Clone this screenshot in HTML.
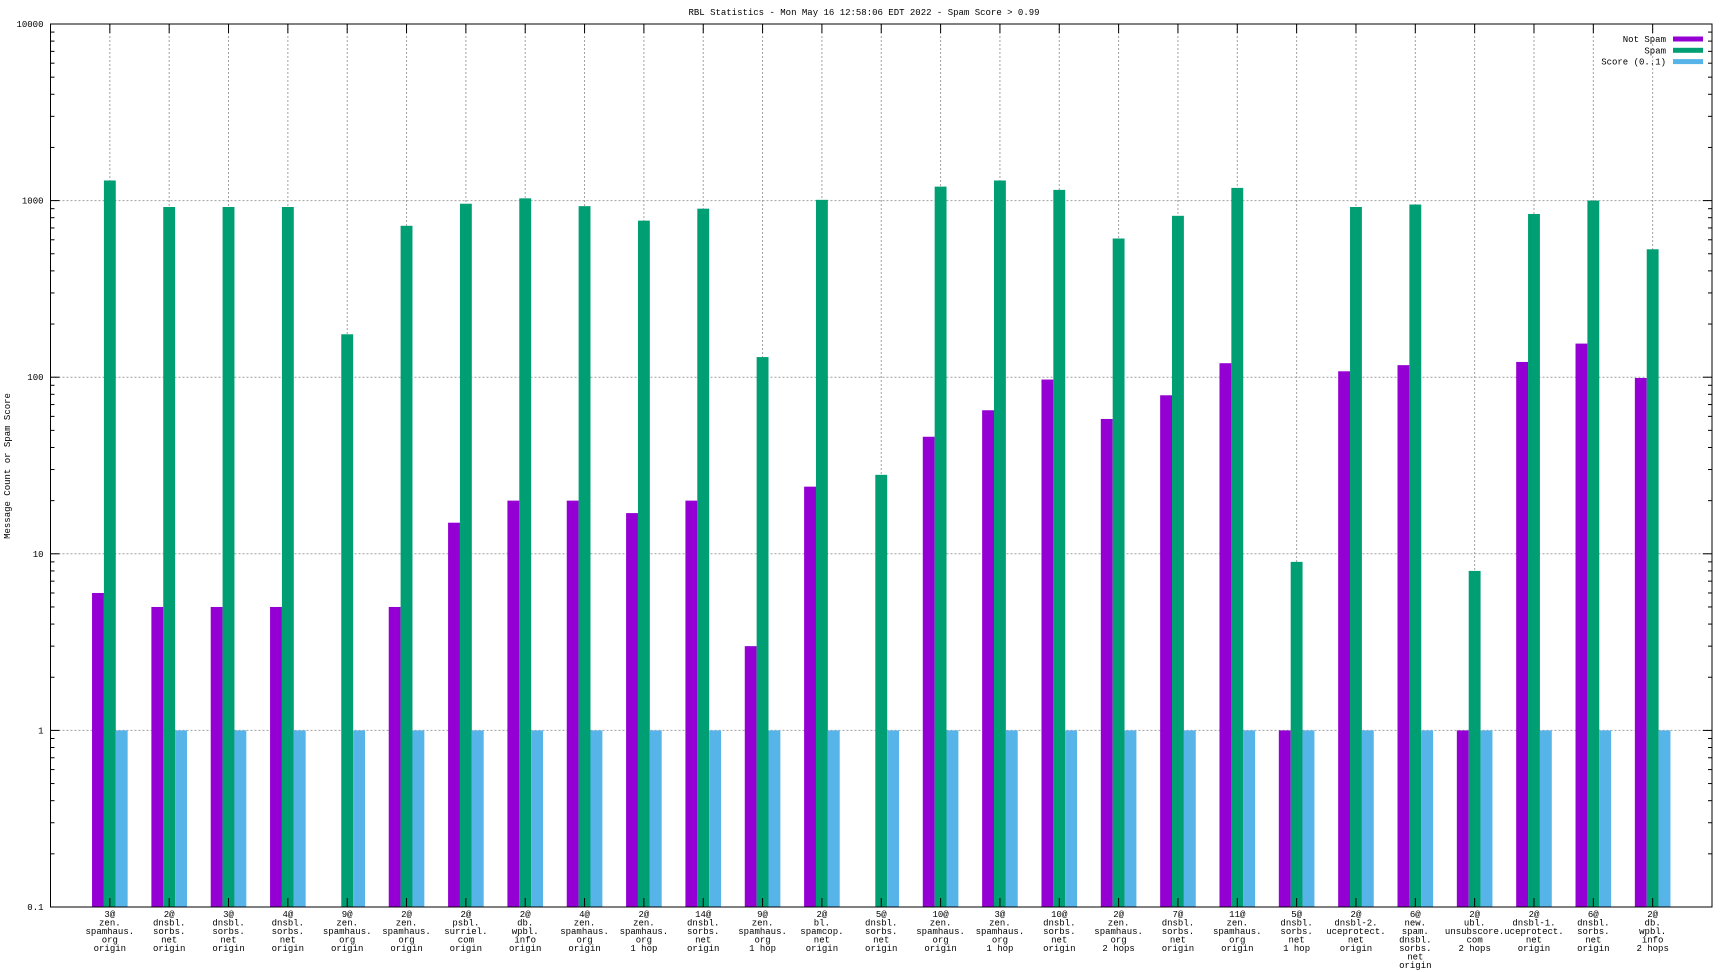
<!DOCTYPE html>
<html><head><meta charset="utf-8"><style>
html,body{margin:0;padding:0;background:#fff;}
svg{display:block;font-family:"Liberation Mono","DejaVu Sans Mono",monospace;}
</style></head><body>
<svg id="chart" width="1728" height="972" viewBox="0 0 1728 972" xmlns="http://www.w3.org/2000/svg">
<rect x="0" y="0" width="1728" height="972" fill="#fff"/>
<text x="864" y="15" font-size="9" text-anchor="middle">RBL Statistics - Mon May 16 12:58:06 EDT 2022 - Spam Score &gt; 0.99</text>
<text x="0" y="0" font-size="9" text-anchor="middle" transform="translate(10,466) rotate(-90)">Message Count or Spam Score</text>
<g id="grid"></g><g id="bars"></g><g id="axes"></g><g id="legend"></g>
</svg>
<script>
const categories = [
["3@","zen.","spamhaus.","org","origin"],["2@","dnsbl.","sorbs.","net","origin"],["3@","dnsbl.","sorbs.","net","origin"],["4@","dnsbl.","sorbs.","net","origin"],["9@","zen.","spamhaus.","org","origin"],["2@","zen.","spamhaus.","org","origin"],["2@","psbl.","surriel.","com","origin"],["2@","db.","wpbl.","info","origin"],["4@","zen.","spamhaus.","org","origin"],["2@","zen.","spamhaus.","org","1 hop"],["14@","dnsbl.","sorbs.","net","origin"],["9@","zen.","spamhaus.","org","1 hop"],["2@","bl.","spamcop.","net","origin"],["5@","dnsbl.","sorbs.","net","origin"],["10@","zen.","spamhaus.","org","origin"],["3@","zen.","spamhaus.","org","1 hop"],["10@","dnsbl.","sorbs.","net","origin"],["2@","zen.","spamhaus.","org","2 hops"],["7@","dnsbl.","sorbs.","net","origin"],["11@","zen.","spamhaus.","org","origin"],["5@","dnsbl.","sorbs.","net","1 hop"],["2@","dnsbl-2.","uceprotect.","net","origin"],["6@","new.","spam.","dnsbl.","sorbs.","net","origin"],["2@","ubl.","unsubscore.","com","2 hops"],["2@","dnsbl-1.","uceprotect.","net","origin"],["6@","dnsbl.","sorbs.","net","origin"],["2@","db.","wpbl.","info","2 hops"]];
const notSpam = [6,5,5,5,0,5,15,20,20,17,20,3,24,0,46,65,97,58,79,120,1,108,117,1,122,155,99];
const spam = [1300,920,920,920,175,720,960,1030,930,770,900,130,1010,28,1200,1300,1150,610,820,1180,9,920,950,8,840,1000,530];
const score = [1,1,1,1,1,1,1,1,1,1,1,1,1,1,1,1,1,1,1,1,1,1,1,1,1,1,1];
const yTicks = [0.1,1,10,100,1000,10000];
const yTickLabels = ["0.1","1","10","100","1000","10000"];
const seriesNames = ["Not Spam","Spam","Score (0..1)"];
const colors = ["#9400d3","#009e73","#56b4e9"];

const L=50.5,R=1712,T=24,B=907;
const xs = i => L + (i+1)*(R-L)/28;
const ys = v => B - (Math.log10(v)+1)*(B-T)/5;
const NS="http://www.w3.org/2000/svg";
function mk(tag,attrs,parent){const e=document.createElementNS(NS,tag);for(const k in attrs)e.setAttribute(k,attrs[k]);parent.appendChild(e);return e;}
const grid=document.getElementById('grid'),bars=document.getElementById('bars'),axes=document.getElementById('axes'),leg=document.getElementById('legend');
const unit=(R-L)/28;
// vertical grid + x ticks
categories.forEach((c,i)=>{
  const x=xs(i);
  const g=mk('line',{x1:x,x2:x,y1:T,y2:B,stroke:'#a0a0a0','stroke-width':1,'stroke-dasharray':'2,2'},grid);
  
  
  mk('line',{x1:x,x2:x,y1:T,y2:T+9,stroke:'#000'},axes);
  mk('line',{x1:x,x2:x,y1:B,y2:B-9,stroke:'#000'},axes);
  const t=mk('text',{x:x,y:B+10,'font-size':9,'text-anchor':'middle'},axes);
  
  
  c.forEach((ln,j)=>{const s=mk('tspan',{x:x,dy:j?8.5:0},t);s.textContent=ln;});
});
// y grid, ticks
yTicks.forEach((v,k)=>{
  const y=ys(v);
  if(k>0&&k<yTicks.length-1){
    const g=mk('line',{x1:L,x2:R,y1:y,y2:y,stroke:'#a0a0a0','stroke-dasharray':'2,2'},grid);
    
    
  }
  mk('line',{x1:L,x2:L+9,y1:y,y2:y,stroke:'#000'},axes);
  mk('line',{x1:R,x2:R-9,y1:y,y2:y,stroke:'#000'},axes);
  const t=mk('text',{x:L-7,y:y+3,'font-size':9,'text-anchor':'end'},axes);
  
  
  t.textContent=yTickLabels[k];
  if(k<yTicks.length-1){for(let m=2;m<10;m++){const yy=ys(v*m);
    mk('line',{x1:L,x2:L+4,y1:yy,y2:yy,stroke:'#000'},axes);
    mk('line',{x1:R,x2:R-4,y1:yy,y2:yy,stroke:'#000'},axes);}}
});
// bars
[notSpam,spam,score].forEach((arr,s)=>{
  arr.forEach((v,i)=>{
    if(!(v>0))return;
    const cx=xs(i)+(s-1)*0.2*unit, w=0.2*unit, y=ys(v);
    const r=mk('rect',{x:cx-w/2,y:y,width:w,height:B-y,fill:colors[s]},bars);
    
    
  });
});
const fr=mk('rect',{x:L,y:T,width:R-L,height:B-T,fill:'none',stroke:'#000','stroke-width':1},axes);


// legend
seriesNames.forEach((n,s)=>{
  const y=39+s*11.3;
  const t=mk('text',{x:1666,y:y+3,'font-size':9,'text-anchor':'end'},leg);
  
  
  t.textContent=n;
  mk('rect',{x:1673,y:y-2.5,width:30,height:5,fill:colors[s]},leg);
});
</script>
</body></html>
